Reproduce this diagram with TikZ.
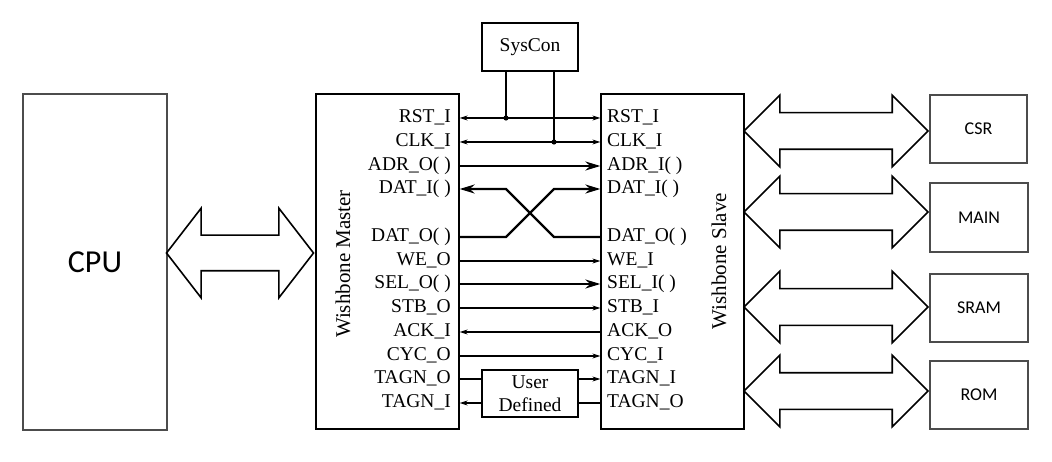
\documentclass[tikz,border=0pt]{standalone}
\usepackage{fontspec}
\setmainfont{Liberation Serif}
\newfontfamily\calibri{Carlito}
\usetikzlibrary{arrows.meta,shapes.arrows,positioning}

\tikzset{
  box/.style={draw, line width=1.3pt, inner sep=0pt},
  gbox/.style={box, draw=black!70, font=\calibri\fontsize{18}{22}\selectfont},
  mlab/.style={anchor=east, inner sep=0pt, text height=13.5pt, text depth=4pt,
    font=\fontsize{19.5}{23}\selectfont},
  slab/.style={mlab, anchor=west},
  sig/.style={line width=1.1pt},
  bus/.style={line width=2.2pt},
  thin tip/.tip={Stealth[length=8pt,width=5pt]},
  fat tip/.tip={Stealth[length=15pt,width=9pt]},
  fatarrow/.style={double arrow, draw, line width=1.6pt, inner sep=0pt,
    double arrow head extend=17.5pt, double arrow tip angle=90,
    minimum width=70pt, minimum height=184pt}
}

\begin{document}
\begin{tikzpicture}[x=1pt, y=-1pt]
\useasboundingbox (0,0) rectangle (1052,462);

% blocks
\node[gbox, minimum width=144pt, minimum height=336pt,
  font=\calibri\fontsize{32}{36}\selectfont] (cpu) at (95,262) {CPU};
\node[box, minimum width=143pt, minimum height=335pt] (master) at (387.5,261.5) {};
\node[box, minimum width=143pt, minimum height=335pt] (slave) at (672.5,261.5) {};
\node[box, minimum width=96pt, minimum height=48pt,
  font=\fontsize{19.5}{23}\selectfont] (syscon) at (530,47) {SysCon};
\node[box, minimum width=96pt, minimum height=47pt, align=center,
  font=\fontsize{19.5}{23}\selectfont] (user) at (530,393.5) {User\\Defined};
\node[gbox, minimum width=97pt, minimum height=68pt] (csr) at (978.5,129) {CSR};
\node[gbox, minimum width=98pt, minimum height=69pt] (main) at (979,217.5) {MAIN};
\node[gbox, minimum width=98pt, minimum height=68pt] (sram) at (979,308) {SRAM};
\node[gbox, minimum width=98pt, minimum height=68pt] (rom) at (979,395) {ROM};

\node[rotate=90, font=\fontsize{21}{24}\selectfont] (mtitle) at (343,264) {Wishbone Master};
\node[rotate=90, font=\fontsize{21}{24}\selectfont] (stitle) at (719,261) {Wishbone Slave};

% master signals
\node[mlab] (mrst) at (451,118) {RST\_I};
\node[mlab] (mclk) at (451,142) {CLK\_I};
\node[mlab] (madr) at (451,166) {ADR\_O( )};
\node[mlab] (mdati) at (451,189) {DAT\_I( )};
\node[mlab] (mdato) at (451,237) {DAT\_O( )};
\node[mlab] (mwe) at (451,261) {WE\_O};
\node[mlab] (msel) at (451,284) {SEL\_O( )};
\node[mlab] (mstb) at (451,308) {STB\_O};
\node[mlab] (mack) at (451,332) {ACK\_I};
\node[mlab] (mcyc) at (451,356) {CYC\_O};
\node[mlab] (mtago) at (451,379) {TAGN\_O};
\node[mlab] (mtagi) at (451,403) {TAGN\_I};

% slave signals
\node[slab] (srst) at (607,118) {RST\_I};
\node[slab] (sclk) at (607,142) {CLK\_I};
\node[slab] (sadr) at (607,166) {ADR\_I( )};
\node[slab] (sdati) at (607,189) {DAT\_I( )};
\node[slab] (sdato) at (607,237) {DAT\_O( )};
\node[slab] (swe) at (607,261) {WE\_I};
\node[slab] (ssel) at (607,284) {SEL\_I( )};
\node[slab] (sstb) at (607,308) {STB\_I};
\node[slab] (sack) at (607,332) {ACK\_O};
\node[slab] (scyc) at (607,356) {CYC\_I};
\node[slab] (stagi) at (607,379) {TAGN\_I};
\node[slab] (stago) at (607,403) {TAGN\_O};

% syscon taps
\coordinate (rtap) at (506,118);
\coordinate (ctap) at (554,142);
\draw[sig] (rtap |- syscon.south) -- (rtap);
\draw[sig] (ctap |- syscon.south) -- (ctap);
\fill (rtap) circle[radius=2.6pt];
\fill (ctap) circle[radius=2.6pt];

% connectors
\draw[sig, thin tip-thin tip] (master.east |- mrst) -- (slave.west |- srst);
\draw[sig, thin tip-thin tip] (master.east |- mclk) -- (slave.west |- sclk);
\draw[bus, -fat tip] (master.east |- madr) -- (slave.west |- sadr);
\draw[bus, -fat tip] (master.east |- mdato) -- (rtap |- mdato) -- (ctap |- sdati) -- (slave.west |- sdati);
\draw[bus, -fat tip] (slave.west |- sdato) -- (ctap |- sdato) -- (rtap |- mdati) -- (master.east |- mdati);
\draw[sig, -thin tip] (master.east |- mwe) -- (slave.west |- swe);
\draw[bus, -fat tip] (master.east |- msel) -- (slave.west |- ssel);
\draw[sig, -thin tip] (master.east |- mstb) -- (slave.west |- sstb);
\draw[sig, -thin tip] (slave.west |- sack) -- (master.east |- mack);
\draw[sig, -thin tip] (master.east |- mcyc) -- (slave.west |- scyc);
\draw[sig] (master.east |- mtago) -- (user.west |- mtago);
\draw[sig, -thin tip] (user.east |- stagi) -- (slave.west |- stagi);
\draw[sig] (slave.west |- stago) -- (user.east |- stago);
\draw[sig, -thin tip] (user.west |- mtagi) -- (master.east |- mtagi);

% buses
\node[fatarrow, minimum width=88pt, minimum height=147pt,
  double arrow head extend=27pt, double arrow tip angle=104.6] (cpubus) at (240,253) {\rule{0pt}{34pt}};
\node[fatarrow] (csrbus) at (836,131) {\rule{0pt}{35pt}};
\node[fatarrow] (mainbus) at (836,212) {\rule{0pt}{35pt}};
\node[fatarrow] (srambus) at (836,307) {\rule{0pt}{35pt}};
\node[fatarrow] (rombus) at (836,391) {\rule{0pt}{35pt}};
\end{tikzpicture}
\end{document}
